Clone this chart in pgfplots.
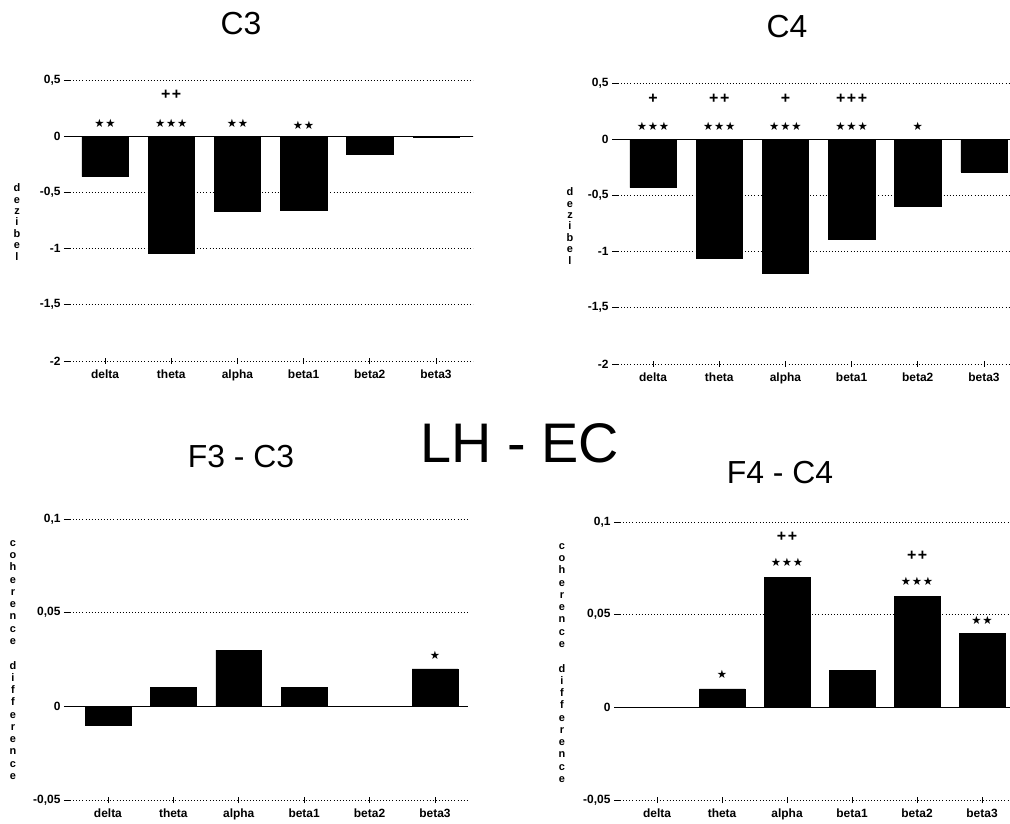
\documentclass[border=0pt]{standalone}
\usepackage{fontspec}
\setmainfont{Liberation Sans}
\newfontfamily\sym{DejaVu Sans}
\usepackage{pgfplots}
\pgfplotsset{compat=1.18}

% annotation marks
\newcommand{\sA}{\sym ★}
\newcommand{\sB}{\sym ★\kern0.8bp★}
\newcommand{\sC}{\sym ★\kern0.8bp★\kern0.8bp★}
\newcommand{\pB}{+\kern1.5bp+}
\newcommand{\pC}{+\kern1.5bp+\kern1.5bp+}

\pgfplotsset{
  panel/.style={
    scale only axis, ybar, bar width=0.7, bar shift=0pt,
    axis line style={draw=none},
    xtick={0,...,5}, xticklabels={delta,theta,alpha,beta1,beta2,beta3},
    xtick pos=bottom, ytick pos=left,
    ymajorgrids,
    grid style={black, line width=0.7bp, dash pattern=on 0.7bp off 2.4bp},
    tick align=outside, major tick length=6bp,
    ytick style={black, line width=0.7bp},
    xtick style={black, line width=0.7bp, yshift=3bp},
    tick label style={font=\bfseries\fontsize{12}{13}\selectfont},
    xticklabel style={yshift=1bp},
    /pgf/number format/assume math mode=true,
    clip=false,
  },
  bars/.style={fill=black, draw=black},
}
\tikzset{
  ann/.style={font=\fontsize{11.5}{12}\selectfont, inner sep=0pt},
  pl/.style={font=\bfseries\fontsize{16}{16}\selectfont, inner sep=0pt},
  ylab/.style={font=\bfseries\fontsize{11}{#1}\selectfont, align=center, inner sep=0pt},
}

\begin{document}
\begin{tikzpicture}
\useasboundingbox (0bp,0bp) rectangle (1010bp,824bp);

% ---- C3 ----
\begin{axis}[panel, at={(70bp,463bp)}, anchor=south west,
    width=403bp, height=281bp, xmin=-0.53, xmax=5.56,
    ymin=-2, ymax=0.5, ytick={-2,-1.5,-1,-0.5,0,0.5},
    yticklabels={{-2},{-1,5},{-1},{-0,5},{0},{0,5}}]
\draw[black, line width=0.9bp] (axis cs:-0.53,0) -- (axis cs:5.56,0);
\addplot[bars] coordinates {(0,-0.36) (1,-1.04) (2,-0.67) (3,-0.66) (4,-0.16) (5,-0.005)};
\node[ann] at (axis cs:0,0.118) {\sB};
\node[ann] at (axis cs:1,0.118) {\sC};
\node[ann] at (axis cs:2,0.118) {\sB};
\node[ann] at (axis cs:3,0.100) {\sB};
\node[pl] at (axis cs:1,0.37) {\pB};
\end{axis}

% ---- C4 ----
\begin{axis}[panel, at={(618bp,460bp)}, anchor=south west,
    width=403bp, height=281bp, xmin=-0.53, xmax=5.56,
    ymin=-2, ymax=0.5, ytick={-2,-1.5,-1,-0.5,0,0.5},
    yticklabels={{-2},{-1,5},{-1},{-0,5},{0},{0,5}}]
\draw[black, line width=0.9bp] (axis cs:-0.53,0) -- (axis cs:5.56,0);
\addplot[bars] coordinates {(0,-0.43) (1,-1.06) (2,-1.19) (3,-0.89) (4,-0.60) (5,-0.29)};
\node[ann] at (axis cs:0,0.11) {\sC};
\node[ann] at (axis cs:1,0.11) {\sC};
\node[ann] at (axis cs:2,0.11) {\sC};
\node[ann] at (axis cs:3,0.11) {\sC};
\node[ann] at (axis cs:4,0.11) {\sA};
\node[pl] at (axis cs:0,0.36) {+};
\node[pl] at (axis cs:1,0.36) {\pB};
\node[pl] at (axis cs:2,0.36) {+};
\node[pl] at (axis cs:3,0.36) {\pC};
\end{axis}

% ---- F3 - C3 ----
\begin{axis}[panel, at={(70bp,24bp)}, anchor=south west,
    width=397bp, height=281bp, xmin=-0.58, xmax=5.49,
    ymin=-0.05, ymax=0.1, ytick={-0.05,0,0.05,0.1},
    yticklabels={{-0,05},{0},{0,05},{0,1}}]
\draw[black, line width=0.9bp] (axis cs:-0.58,0) -- (axis cs:5.49,0);
\addplot[bars] coordinates {(0,-0.01) (1,0.01) (2,0.03) (3,0.01) (4,0) (5,0.02)};
\node[ann] at (axis cs:5,0.027) {\sA};
\end{axis}

% ---- F4 - C4 ----
\begin{axis}[panel, at={(620bp,24bp)}, anchor=south west,
    width=403bp, height=278bp, xmin=-0.57, xmax=5.63,
    ymin=-0.05, ymax=0.1, ytick={-0.05,0,0.05,0.1},
    yticklabels={{-0,05},{0},{0,05},{0,1}}]
\draw[black, line width=0.9bp] (axis cs:-0.57,0) -- (axis cs:5.63,0);
\addplot[bars] coordinates {(0,0) (1,0.01) (2,0.07) (3,0.02) (4,0.06) (5,0.04)};
\node[ann] at (axis cs:1,0.018) {\sA};
\node[ann] at (axis cs:2,0.078) {\sC};
\node[pl] at (axis cs:2,0.092) {\pB};
\node[ann] at (axis cs:4,0.068) {\sC};
\node[pl] at (axis cs:4,0.082) {\pB};
\node[ann] at (axis cs:5,0.047) {\sB};
\end{axis}

% titles
\node[font=\fontsize{32}{32}\selectfont] at (241bp,800bp) {C3};
\node[font=\fontsize{32}{32}\selectfont] at (787bp,797bp) {C4};
\node[font=\fontsize{32}{32}\selectfont] at (241bp,367bp) {F3 - C3};
\node[font=\fontsize{32}{32}\selectfont] at (780bp,351bp) {F4 - C4};
\node[font=\fontsize{56}{56}\selectfont] at (520bp,381bp) {LH - EC};

% y labels, letters stacked
\node[ylab=11.4] at (17bp,602bp) {d\\e\\z\\i\\b\\e\\l};
\node[ylab=11.4] at (570bp,598bp) {d\\e\\z\\i\\b\\e\\l};
\node[ylab=12.3] at (13bp,164bp)
  {c\\o\\h\\e\\r\\e\\n\\c\\e\\[12.3bp]d\\i\\f\\f\\e\\r\\e\\n\\c\\e};
\node[ylab=12.3] at (562bp,161bp)
  {c\\o\\h\\e\\r\\e\\n\\c\\e\\[12.3bp]d\\i\\f\\f\\e\\r\\e\\n\\c\\e};
\end{tikzpicture}
\end{document}
